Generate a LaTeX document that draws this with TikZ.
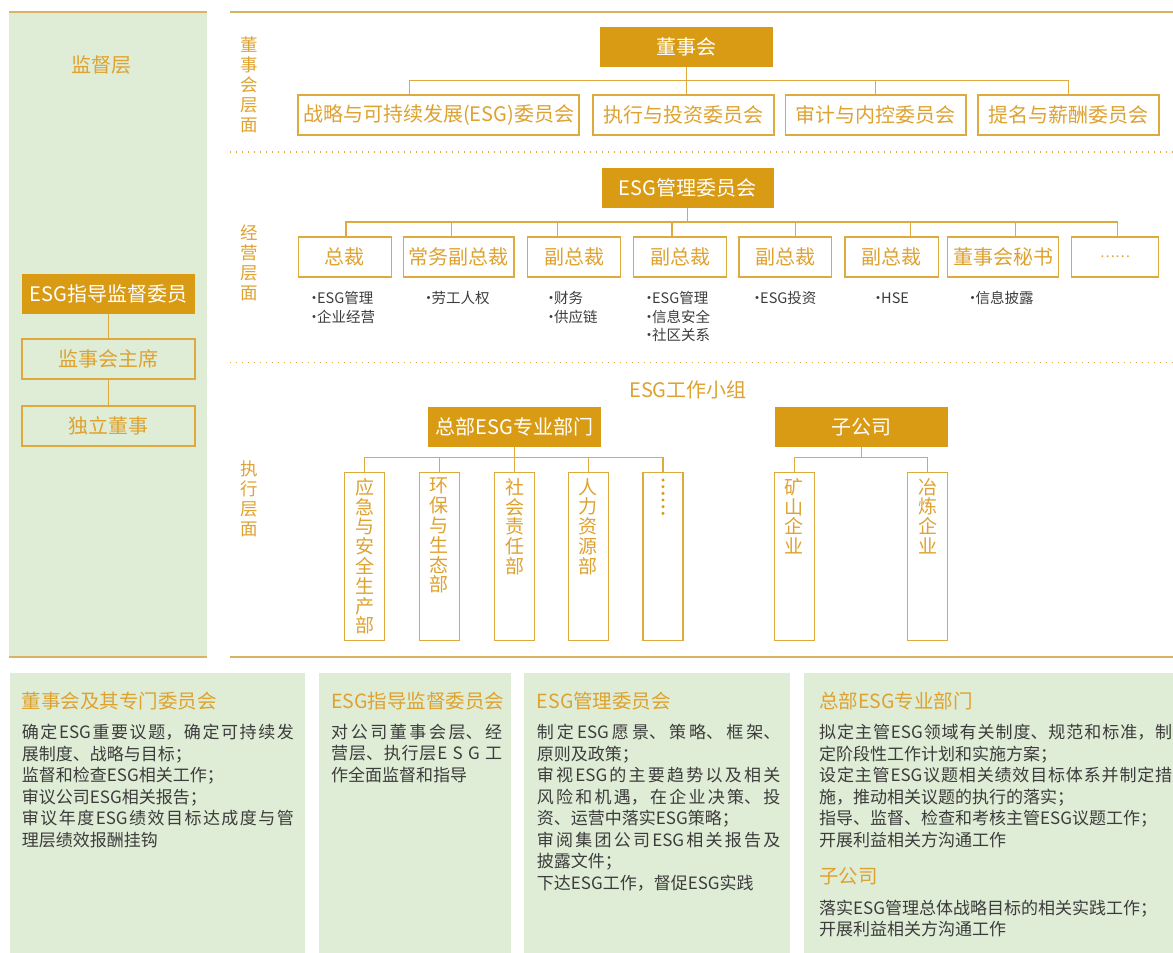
\documentclass[tikz,border=0pt]{standalone}
\usepackage{fontspec}
\setmainfont{Noto Sans CJK SC}
\XeTeXlinebreaklocale "zh"
\XeTeXlinebreakskip=0pt plus 1pt
\definecolor{gfill}{RGB}{217,155,20}
\definecolor{gline}{RGB}{222,170,62}
\definecolor{gtxt}{RGB}{222,162,48}
\definecolor{pgreen}{RGB}{223,236,214}
\definecolor{dtxt}{RGB}{60,60,60}
\definecolor{rulec}{RGB}{218,178,100}
\tikzset{
  fbox/.style={fill=gfill, text=white, inner sep=0pt, minimum height=40pt, font=\fontsize{20}{20}\selectfont},
  obox/.style={draw=gline, line width=1.3pt, fill=white, text=gtxt, inner sep=0pt, minimum height=40pt, font=\fontsize{20}{20}\selectfont},
  vertbox/.style={draw=gline, line width=1.3pt, fill=white, text=gtxt, inner sep=0pt, minimum width=40pt, minimum height=168pt, font=\fontsize{19}{19.8}\selectfont},
  conn/.style={draw=gline, line width=1.3pt},
  rulel/.style={draw=rulec, line width=2pt},
  dotl/.style={draw=gline, line width=1.2pt, dash pattern=on 1.2pt off 4.8pt},
  layertxt/.style={text=gtxt, align=center, inner sep=0pt, font=\fontsize{17.5}{20}\selectfont},
  goldtxt/.style={text=gtxt, inner sep=0pt, font=\fontsize{20}{20}\selectfont},
  bullettxt/.style={text=dtxt, inner sep=0pt, anchor=base west, font=\fontsize{14.5}{18.5}\selectfont},
  ptitle/.style={text=gtxt, inner sep=0pt, anchor=west, font=\fontsize{19.5}{20}\selectfont},
  pbody/.style={text=dtxt, inner sep=0pt, anchor=north west, align=justify, font=\fontsize{17}{21.5}\selectfont},
}
\newcommand{\vtxt}[1]{\parbox[c][157pt][t]{24pt}{\centering #1}}
\newcommand{\bdot}{\makebox[6pt]{·}}
\begin{document}
\begin{tikzpicture}[x=1pt,y=-1pt]
\useasboundingbox (0,0) rectangle (1173,953);
% frame
\fill[pgreen] (9,12) rectangle (207,657);
\draw[rulel] (9,12) -- (207,12);
\draw[rulel] (230,12) -- (1173,12);
\draw[rulel] (9,657) -- (207,657);
\draw[rulel] (230,657) -- (1173,657);
\draw[dotl] (230,152) -- (1173,152);
\draw[dotl] (230,362.5) -- (1173,362.5);

% layer labels
\node[layertxt] (lab1) at (249.5,85) {董\\事\\会\\层\\面};
\node[layertxt] (lab2) at (249.5,262.5) {经\\营\\层\\面};
\node[layertxt] (lab3) at (249.5,498.5) {执\\行\\层\\面};

% left panel
\node[goldtxt] (sup) at (101.5,65) {监督层};
\node[fbox, minimum width=173pt] (l1) at (108.5,294) {ESG指导监督委员};
\node[obox, fill=none, minimum width=173pt] (l2) at (108.5,359) {监事会主席};
\node[obox, fill=none, minimum width=173pt] (l3) at (108.5,426) {独立董事};
\draw[conn] (l1) -- (l2);
\draw[conn] (l2) -- (l3);

% board level
\node[fbox, minimum width=173pt] (dsh) at (686.5,47) {董事会};
\node[obox, minimum width=281pt] (c1) at (438.5,115) {战略与可持续发展(ESG)委员会};
\node[obox, minimum width=181pt] (c2) at (683.5,115) {执行与投资委员会};
\node[obox, minimum width=180.5pt] (c3) at (875.6,115) {审计与内控委员会};
\node[obox, minimum width=181pt] (c4) at (1068.5,115) {提名与薪酬委员会};
\coordinate (b1) at (409.3,80.7);
\draw[conn] (b1 |- c1.north) -- (b1) -| (c4.north);
\draw[conn] (c3.north) -- (c3.north |- b1);
\draw[conn] (dsh.south) -- (dsh.south |- c2.north);

% management level
\node[fbox, minimum width=172pt] (esgm) at (687.5,188) {ESG管理委员会};
\node[obox, minimum width=93pt] (m1) at (344.8,257) {总裁};
\node[obox, minimum width=110.3pt] (m2) at (458.85,257) {常务副总裁};
\node[obox, minimum width=93pt] (m3) at (574.2,257) {副总裁};
\node[obox, minimum width=93.4pt] (m4) at (680,257) {副总裁};
\node[obox, minimum width=92.7pt] (m5) at (785.35,257) {副总裁};
\node[obox, minimum width=93.3pt] (m6) at (891.65,257) {副总裁};
\node[obox, minimum width=111.4pt] (m7) at (1003,257) {董事会秘书};
\node[obox, minimum width=87.4pt, font=\fontsize{14}{14}\selectfont] (m8) at (1115,257) {……};
\coordinate (b2) at (346,222);
\coordinate (b2e) at (1117.3,222);
\draw[conn] (b2 |- m1.north) -- (b2) -- (b2e) -- (b2e |- m8.north);
\foreach \x/\n in {451.7/m2,557.3/m3,672/m4,795.7/m5,910.7/m6,1015.7/m7}
  \draw[conn] (\x,222) coordinate (tk) -- (tk |- \n.north);
\draw[conn] (esgm.south) -- (esgm.south |- b2);

% bullet notes
\node[bullettxt] (n1a) at (311,303.5) {\bdot ESG管理};
\node[bullettxt] (n1b) at (311,322.2) {\bdot 企业经营};
\node[bullettxt] (n2a) at (425.5,303.5) {\bdot 劳工人权};
\node[bullettxt] (n3a) at (548,303.5) {\bdot 财务};
\node[bullettxt] (n3b) at (548,322.2) {\bdot 供应链};
\node[bullettxt] (n4a) at (646,303.5) {\bdot ESG管理};
\node[bullettxt] (n4b) at (646,322.2) {\bdot 信息安全};
\node[bullettxt] (n4c) at (646,340.7) {\bdot 社区关系};
\node[bullettxt] (n5a) at (754,303.5) {\bdot ESG投资};
\node[bullettxt] (n6a) at (875,303.5) {\bdot HSE};
\node[bullettxt] (n7a) at (969.5,303.5) {\bdot 信息披露};

% execution level
\node[goldtxt] (grp) at (688,390) {ESG工作小组};
\node[fbox, minimum width=172.4pt] (hq) at (514.6,427) {总部ESG专业部门};
\node[fbox, minimum width=172.6pt] (sub) at (861.3,427) {子公司};
\node[vertbox] (d1) at (364.5,556.7) {\vtxt{应\\急\\与\\安\\全\\生\\产\\部}};
\node[vertbox] (d2) at (439.2,556.7) {\vtxt{环\\保\\与\\生\\态\\部}};
\node[vertbox] (d3) at (514.6,556.7) {\vtxt{社\\会\\责\\任\\部}};
\node[vertbox] (d4) at (588.3,556.7) {\vtxt{人\\力\\资\\源\\部}};
\node[vertbox] (d5) at (663,556.7) {};
\foreach \i in {0,...,5}
  \fill[gfill] ([yshift=-8pt-\i*6.66pt]d5.north) circle (1.7pt);
\node[vertbox] (s1) at (794.2,556.7) {\vtxt{矿\\山\\企\\业}};
\node[vertbox] (s2) at (927.8,556.7) {\vtxt{冶\\炼\\企\\业}};
\coordinate (hb) at (514.6,457.7);
\coordinate (sb) at (861.3,457.7);
\draw[conn] (hq.south) -- (hb);
\draw[conn] (d1.north) |- (hb) -| (d5.north);
\foreach \n in {d2,d3,d4} \draw[conn] (\n.north) -- (\n.north |- hb);
\draw[conn] (sub.south) -- (sb);
\draw[conn] (s1.north) |- (sb) -| (s2.north);

% bottom panels
\fill[pgreen] (10,672.7) rectangle (305,953);
\fill[pgreen] (319,672.7) rectangle (511,953);
\fill[pgreen] (524,672.7) rectangle (790,953);
\fill[pgreen] (804,672.7) rectangle (1173,953);

\node[ptitle] (t1) at (21.7,700.7) {董事会及其专门委员会};
\node[pbody, text width=272pt] (p1) at (21.7,724) {确定ESG重要议题，确定可持续发\linebreak 展制度、战略与目标；\\监督和检查ESG相关工作；\\审议公司ESG相关报告；\\审议年度ESG绩效目标达成度与管\linebreak 理层绩效报酬挂钩};

\node[ptitle] (t2) at (331,700.7) {ESG指导监督委员会};
\node[pbody, text width=171pt] (p2) at (331,724) {对公司董事会层、经\linebreak 营层、执行层E S G 工\linebreak 作全面监督和指导};

\node[ptitle] (t3) at (536.7,700.7) {ESG管理委员会};
\node[pbody, text width=243.5pt] (p3) at (536.7,724) {制定ESG愿景、策略、框架、\linebreak 原则及政策；\\审视ESG的主要趋势以及相关\linebreak 风险和机遇，在企业决策、投\linebreak 资、运营中落实ESG策略；\\审阅集团公司ESG相关报告及\linebreak 披露文件；\\下达ESG工作，督促ESG实践};

\node[ptitle] (t4) at (819,700.7) {总部ESG专业部门};
\node[pbody, text width=353pt] (p4) at (819,724) {拟定主管ESG领域有关制度、规范和标准，制\linebreak 定阶段性工作计划和实施方案；\\设定主管ESG议题相关绩效目标体系并制定措\linebreak 施，推动相关议题的执行的落实；\\指导、监督、检查和考核主管ESG议题工作；\\开展利益相关方沟通工作};
\node[ptitle] (t5) at (819,876.7) {子公司};
\node[pbody, text width=353pt] (p5) at (819,899.5) {落实ESG管理总体战略目标的相关实践工作；\\开展利益相关方沟通工作};
\end{tikzpicture}
\end{document}
